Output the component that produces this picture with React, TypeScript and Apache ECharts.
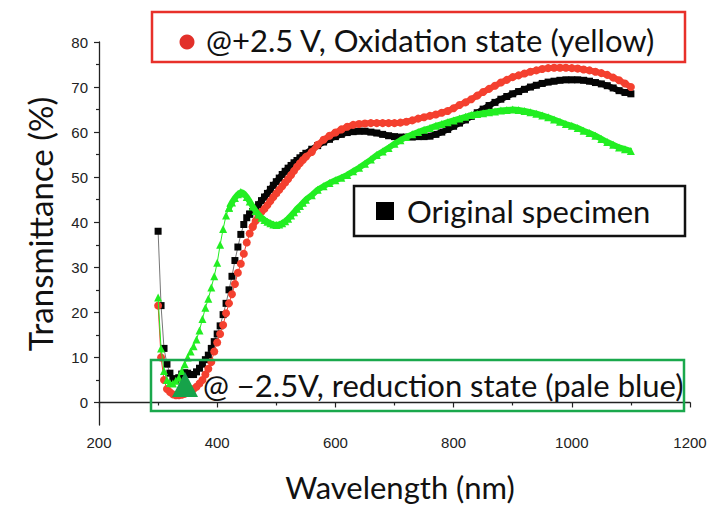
import React, { useEffect, useRef } from "react";
import * as echarts from "echarts";

const wavelengths = [
  300, 305, 310, 315, 320, 325, 330, 335, 340, 345,
  350, 355, 360, 365, 370, 375, 380, 385, 390, 395,
  400, 405, 410, 415, 420, 425, 430, 435, 440, 445,
  450, 455, 460, 465, 470, 475, 480, 485, 490, 495,
  500, 505, 510, 515, 520, 525, 530, 535, 540, 545,
  550,
  560, 570, 580, 590, 600, 610, 620, 630, 640, 650,
  660, 670, 680, 690, 700, 710, 720, 730, 740, 750,
  760, 770, 780, 790, 800, 810, 820, 830, 840, 850,
  860, 870, 880, 890, 900, 910, 920, 930, 940, 950,
  960, 970, 980, 990, 1000, 1010, 1020, 1030, 1040, 1050,
  1060, 1070, 1080, 1090, 1100,
];

const original = [
  38, 21.5, 12, 8.5, 6.5, 5.3, 4.9, 5.5, 6.3, 6.6,
  6.5, 6.2, 6.2, 6.8, 7.6, 8.5, 9.5, 10.5, 12, 13.5,
  15.2, 17, 19.5, 22, 25, 28, 31.5, 34.5, 37.3, 39.5,
  41, 41.8, 42.4, 43.1, 43.9, 44.8, 45.6, 46.4, 47.3, 48.2,
  49, 49.8, 50.6, 51.3, 52, 52.6, 53.2, 53.7, 54.3, 54.8,
  55.3,
  56.2, 57, 57.8, 58.4, 59, 59.5, 59.9, 60.1, 60.2, 60.2,
  60, 59.8, 59.5, 59.2, 59, 58.9, 58.9, 58.9, 59, 59,
  59.1, 59.5, 60, 60.6, 61.3, 62, 62.7, 63.5, 64.3, 65.1,
  65.9, 66.6, 67.3, 67.9, 68.5, 69, 69.5, 70, 70.4, 70.8,
  71.1, 71.3, 71.5, 71.6, 71.6, 71.6, 71.5, 71.3, 71, 70.7,
  70.3, 69.8, 69.2, 68.8, 68.5,
];

const oxidation = [
  21.5, 10, 5, 3, 2.3, 1.8, 1.6, 1.6, 1.7, 1.9,
  2.1, 2.4, 3, 3.5, 4.2, 5, 6.2, 7.5, 9, 11.3,
  13.3, 15.2, 17.2, 19.8, 22, 24, 26.3, 28.8, 30.8, 33,
  35.5, 37.5, 39, 40.3, 41.5, 42.3, 43, 43.8, 44.7, 45.6,
  46.4, 47.2, 48, 48.8, 49.6, 50.5, 51.4, 52.3, 53.1, 53.8,
  54.5,
  55.6, 57.2, 58.3, 59.2, 59.9, 60.6, 61.2, 61.6, 61.8, 61.9,
  62, 62, 62, 62, 62, 62.1, 62.3, 62.6, 63, 63.3,
  63.6, 63.9, 64.3, 64.7, 65.3, 66, 66.6, 67.3, 68.1, 68.9,
  69.6, 70.3, 71, 71.6, 72.2, 72.6, 73, 73.4, 73.7, 74,
  74.2, 74.3, 74.3, 74.3, 74.2, 74.1, 73.9, 73.7, 73.4, 73.1,
  72.7, 72.1, 71.5, 70.8, 70,
];

const reduction = [
  23.3, 12, 7, 5, 4.3, 4.2, 4.8, 5.5, 7, 8.5,
  10, 11.3, 12.5, 14, 16, 18.5, 21, 23, 25.5, 28,
  31, 35, 38.5, 41.5, 43.2, 44.4, 45.4, 46.2, 46.7, 46.4,
  45.6, 44.6, 43.5, 42.5, 41.7, 41, 40.5, 40.1, 39.8, 39.5,
  39.4, 39.5, 39.8, 40.2, 40.8, 41.5, 42.2, 43, 43.6, 44.3,
  45,
  46, 47.2, 48, 48.7, 49.3, 49.9, 50.5, 51.3, 52.1, 53,
  53.9, 54.9, 55.7, 56.5, 57.4, 58.2, 58.9, 59.5, 60, 60.5,
  60.9, 61.4, 61.8, 62.2, 62.6, 63, 63.4, 63.8, 64, 64.2,
  64.4, 64.6, 64.8, 64.9, 65, 64.9, 64.7, 64.4, 64.1, 63.7,
  63.3, 62.8, 62.3, 61.8, 61.4, 60.9, 60.3, 59.8, 59.2, 58.5,
  57.8, 57.2, 56.6, 56.2, 55.8,
];

const yTickLabels = [0, 10, 20, 30, 40, 50, 60, 70, 80];
const yMinorTicks = [5, 15, 25, 35, 45, 55, 65, 75];

const legendOx = "@+2.5 V, Oxidation state (yellow)";
const legendOrig = "Original specimen";
const legendRed = "@ \u22122.5V, reduction state (pale blue)";

const TEXT_FONT = "Lato";

export default function App() {
  const ref = useRef<HTMLDivElement>(null);
  useEffect(() => {
    document.body.style.margin = "0";
    const chart = echarts.init(ref.current!, null, { renderer: "svg" });
    const pairs = (vals: number[]) => wavelengths.map((w, i) => [w, vals[i]]);
    // sparse part (distinct markers, thin line) and dense part (continuous band)
    const mk = (
      vals: number[],
      splitAt: number,
      symbol: string,
      size: number,
      color: string,
      thinColor: string,
      z: number
    ) => {
      const all = pairs(vals);
      const idx = wavelengths.indexOf(splitAt);
      return [
        {
          type: "line",
          data: all.slice(0, idx + 1),
          symbol,
          symbolSize: size,
          showAllSymbol: true,
          itemStyle: { color },
          lineStyle: { color: thinColor, width: 1 },
          z,
        },
        {
          type: "line",
          data: all.slice(idx),
          symbol,
          symbolSize: size,
          showAllSymbol: true,
          itemStyle: { color },
          lineStyle: { color, width: 6 },
          z,
        },
      ];
    };
    chart.setOption({
      animation: false,
      backgroundColor: "#fff",
      grid: { left: 99, right: 21, top: 42, bottom: 80 },
      xAxis: {
        type: "value",
        min: 200,
        max: 1200,
        interval: 200,
        axisLine: { show: true, lineStyle: { color: "#222", width: 1.3 } },
        axisTick: { show: true, length: 5, lineStyle: { color: "#222", width: 1.2 } },
        minorTick: { show: true, splitNumber: 2, length: 3, lineStyle: { color: "#222", width: 1.2 } },
        splitLine: { show: false },
        axisLabel: {
          fontFamily: "Liberation Sans",
          fontSize: 15,
          color: "#222",
          margin: 10,
          formatter: (v: number) => String(v),
        },
      },
      yAxis: [
        {
          type: "value",
          min: -5,
          max: 80,
          axisLine: { show: true, lineStyle: { color: "#222", width: 1.3 } },
          axisTick: { show: true, length: 5, customValues: yTickLabels, lineStyle: { color: "#222", width: 1.2 } },
          axisLabel: { customValues: yTickLabels, fontFamily: "Liberation Sans", fontSize: 15, color: "#222", margin: 11 },
          splitLine: { show: false },
        },
        {
          type: "value",
          min: -5,
          max: 80,
          position: "left",
          axisLine: { show: false },
          axisTick: { show: true, length: 3, customValues: yMinorTicks, lineStyle: { color: "#222", width: 1.2 } },
          axisLabel: { show: false },
          splitLine: { show: false },
        },
      ],
      series: [
        ...mk(original, 455, "rect", 7, "#050505", "#777", 2),
        ...mk(oxidation, 460, "circle", 8, "#f4402f", "#f4402f", 3),
        ...mk(reduction, 420, "triangle", 8, "#22ee22", "#22ee22", 4),
      ],
      graphic: [
        {
          type: "text",
          x: 400,
          y: 487,
          style: { text: "Wavelength (nm)", font: `31px ${TEXT_FONT}`, fill: "#111", align: "center", verticalAlign: "middle" },
        },
        {
          type: "text",
          x: 40,
          y: 224,
          rotation: Math.PI / 2,
          style: { text: "Transmittance (%)", font: `33px ${TEXT_FONT}`, fill: "#111", align: "center", verticalAlign: "middle" },
        },
        {
          type: "rect",
          shape: { x: 152, y: 12, width: 533, height: 50 },
          style: { fill: "#fff", stroke: "#e8302a", lineWidth: 2.5 },
          z: 10,
        },
        { type: "circle", shape: { cx: 187, cy: 42, r: 7.5 }, style: { fill: "#e2302a" }, z: 11 },
        {
          type: "text",
          x: 206,
          y: 40,
          style: { text: legendOx, font: `31px ${TEXT_FONT}`, fill: "#111", verticalAlign: "middle" },
          z: 11,
        },
        {
          type: "rect",
          shape: { x: 354, y: 186, width: 331, height: 50 },
          style: { fill: "#fff", stroke: "#111", lineWidth: 2.5 },
          z: 10,
        },
        { type: "rect", shape: { x: 376, y: 202, width: 18, height: 18 }, style: { fill: "#000" }, z: 11 },
        {
          type: "text",
          x: 407,
          y: 211,
          style: { text: legendOrig, font: `31px ${TEXT_FONT}`, fill: "#111", verticalAlign: "middle" },
          z: 11,
        },
        {
          type: "rect",
          shape: { x: 151, y: 360, width: 533, height: 51 },
          style: { fill: "none", stroke: "#1aa84c", lineWidth: 2.5 },
          z: 10,
        },
        {
          type: "polygon",
          shape: { points: [[172, 397], [198, 397], [185, 372]] },
          style: { fill: "#16a34a" },
          z: 11,
        },
        {
          type: "text",
          x: 203,
          y: 385,
          style: { text: legendRed, font: `31px ${TEXT_FONT}`, fill: "#111", verticalAlign: "middle" },
          z: 11,
        },
      ],
    });
    return () => chart.dispose();
  }, []);
  return <div ref={ref} style={{ position: "fixed", left: 0, top: 0, width: 711, height: 505 }} />;
}
